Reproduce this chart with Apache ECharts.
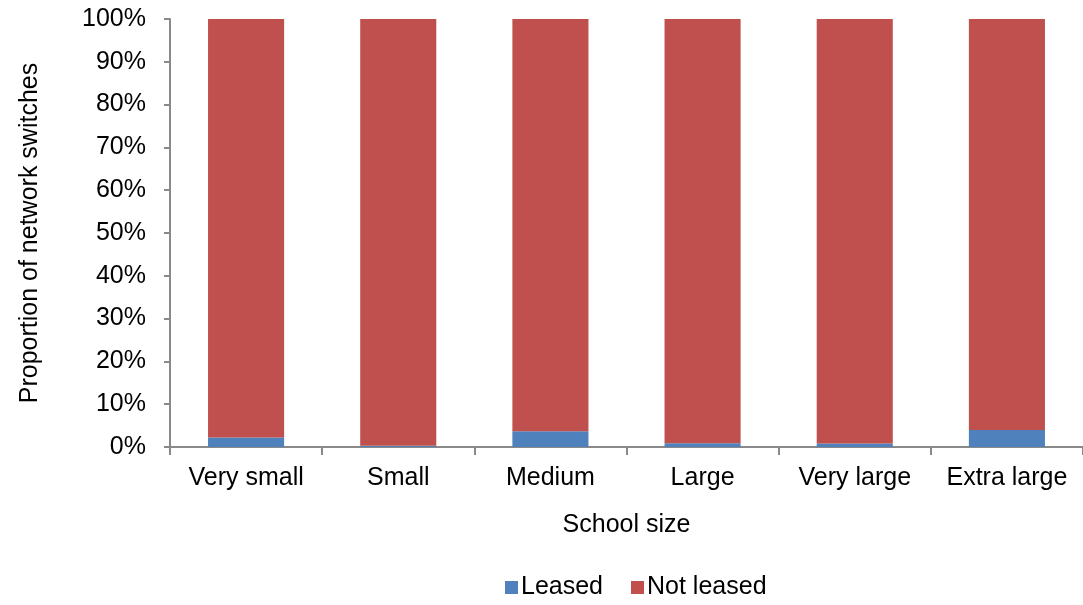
<!DOCTYPE html>
<html><head><meta charset="utf-8">
<script src="https://cdn.jsdelivr.net/npm/echarts@6/dist/echarts.min.js"></script>
<style>html,body{margin:0;padding:0;background:#fff}#c{width:1083px;height:605px}</style>
</head><body><div id="c"></div>
<script>
const categories = ['Very small','Small','Medium','Large','Very large','Extra large'];
const leased = [2.2, 0.3, 3.7, 0.9, 0.8, 4.0];
const notLeased = [97.8, 99.7, 96.3, 99.1, 99.2, 96.0];
const chart = echarts.init(document.getElementById('c'));
const font = 'Liberation Sans, Arial, sans-serif';
const fs = 25;
chart.setOption({
  animation:false,
  textStyle:{fontFamily:font},
  grid:{left:170,top:19,right:-2,bottom:158},
  legend:{bottom:0,left:500,itemWidth:13,itemHeight:13,itemGap:28,icon:'rect',
    textStyle:{fontSize:fs,color:'#000',fontFamily:font,padding:[0,0,0,-2]},
    data:['Leased','Not leased']},
  xAxis:{type:'category',data:categories,name:'School size',nameLocation:'middle',nameGap:66,
    nameTextStyle:{fontSize:fs,color:'#000'},
    axisLine:{lineStyle:{color:'#898989',width:2}},
    axisTick:{show:true,interval:0,length:8,lineStyle:{color:'#898989',width:2}},
    axisLabel:{fontSize:fs,color:'#000',margin:19,interval:0}},
  yAxis:{type:'value',min:0,max:100,interval:10,name:'Proportion of network switches',
    nameLocation:'middle',nameGap:127,nameRotate:90,nameTextStyle:{fontSize:fs,color:'#000'},
    axisLine:{show:true,lineStyle:{color:'#898989',width:2}},
    axisTick:{show:true,inside:false,length:6,lineStyle:{color:'#898989',width:2}},
    splitLine:{show:false},
    axisLabel:{fontSize:fs,color:'#000',margin:24,formatter:'{value}%'}},
  series:[
    {name:'Leased',type:'bar',stack:'a',barWidth:'50%',data:leased,itemStyle:{color:'#4F81BD'}},
    {name:'Not leased',type:'bar',stack:'a',barWidth:'50%',data:notLeased,itemStyle:{color:'#C0504D'}}
  ]
});
</script></body></html>
